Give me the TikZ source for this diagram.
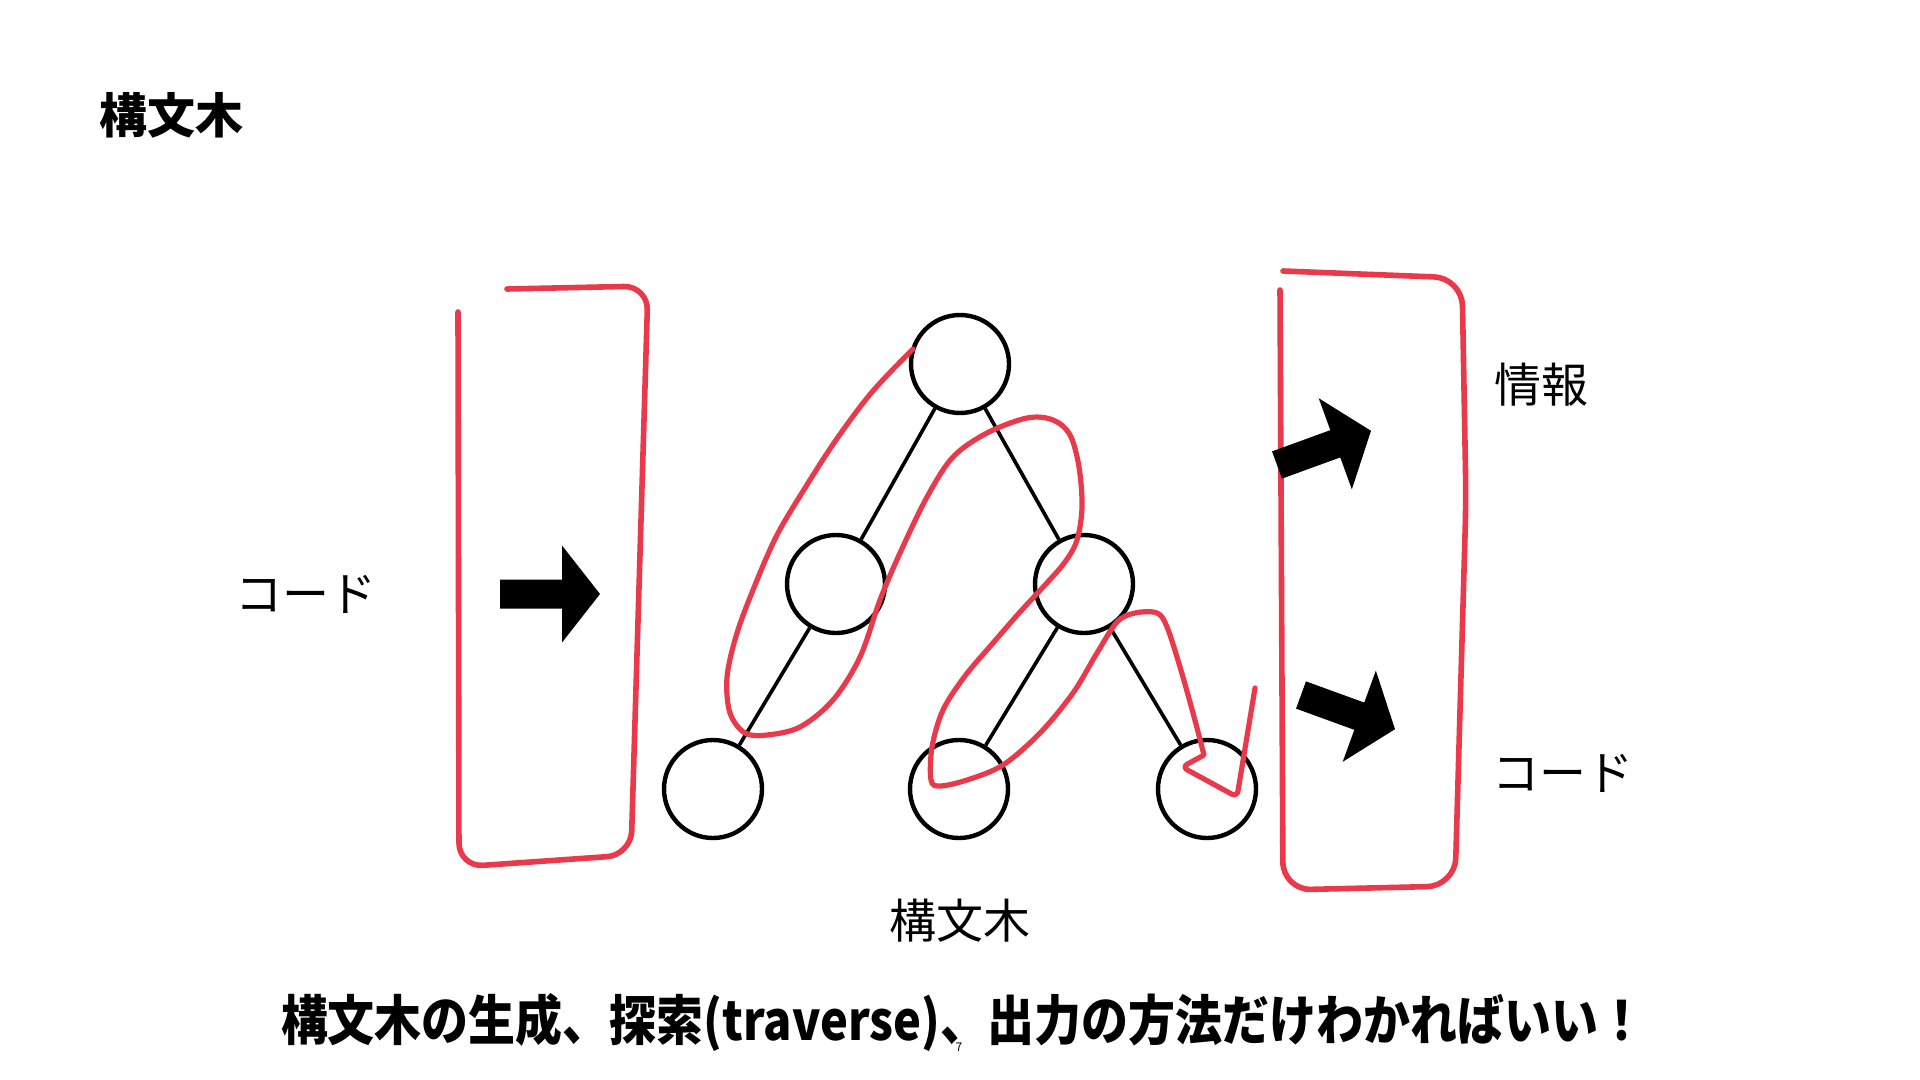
\documentclass[tikz,border=0pt]{standalone}
\usepackage{fontspec}
\setmainfont{Noto Sans CJK JP}
\newfontfamily\narrowfont{Noto Sans CJK JP}[FakeStretch=0.87]
\usepackage{tikz}
\usetikzlibrary{positioning}
\definecolor{pencil}{RGB}{232,58,74}

\begin{document}
\begin{tikzpicture}[x=0.5pt, y=-0.5pt, on grid,
  vertex/.style={circle, draw, line width=2.2pt, minimum size=49pt, inner sep=0pt},
  txt/.style={inner sep=0pt, font=\fontsize{23.5}{28}\selectfont},
  branch/.style={line width=1.8pt},
  redline/.style={draw=pencil, line width=2.8pt, line cap=round, line join=round},
  fatarrow/.pic={\fill (0,-14.5) -- (62,-14.5) -- (62,-48.5) -- (100,0) -- (62,48.5) -- (62,14.5) -- (0,14.5) -- cycle;}]
\useasboundingbox (0,0) rectangle (1920,1080);

% Title
\node[txt, anchor=west, font=\fontsize{24}{29}\selectfont\bfseries] (title) at (99,115) {構文木};

% Tree nodes
\node[vertex] (root) at (960,364) {};
\node[vertex, below left=110pt and 62pt of root] (midleft) {};
\node[vertex, below right=110pt and 62pt of root] (midright) {};
\node[vertex, below left=102.5pt and 61.5pt of midleft] (leafa) {};
\node[vertex, below right=102.5pt and 61.5pt of midleft] (leafb) {};
\node[vertex, below right=102.5pt and 61.5pt of midright] (leafc) {};

% Edges
\draw[branch] (root) -- (midleft);
\draw[branch] (root) -- (midright);
\draw[branch] (midleft) -- (leafa);
\draw[branch] (midright) -- (leafb);
\draw[branch] (midright) -- (leafc);

% Labels
\node[txt] (srccode) at (306,594) {コード};
\node[txt, anchor=west] (info) at (1494,385) {情報};
\node[txt, anchor=west] (outcode) at (1492,773) {コード};
\node[txt] (treename) at (960,921) {構文木};

% Red brackets
\draw[redline, rounded corners=12pt] (507,289) -- (648,286) -- (631,855) -- (459,867) -- (458,312);
\draw[redline, rounded corners=14pt] (1283,271) -- (1462,278) -- (1466,500) -- (1455,886) -- (1283,890) -- (1280,290);

% Traversal
\draw[redline, line width=2.6pt] plot[smooth, tension=0.55] coordinates {
  (913,349) (872,392) (836,440) (805,488) (777,535) (755,585) (737,633) (727,677)
  (730,713) (745,733) (767,735) (800,727) (833,700) (860,657) (880,600) (900,553)
  (927,497) (953,457) (987,433) (1027,418) (1053,420) (1070,435) (1079,467) (1082,507)
  (1077,540) (1065,562) (1045,585) (1020,612) (993,643) (965,676) (943,710) (932,747)
  (931,780) (940,786) (967,780) (1003,765) (1040,733) (1073,693) (1097,653) (1117,622)
  (1135,613) (1157,613) (1167,627) (1180,667) (1193,713) (1204,755)}
  [rounded corners=3pt] -- (1182,767) -- (1237,797) -- (1255,688);

% Arrows
\pic at (500,594) {fatarrow};
\pic[rotate=20] at (1277,465) {fatarrow};
\pic[rotate=-20] at (1301,695) {fatarrow};

% Bottom line
\node[font=\narrowfont\bfseries\fontsize{27}{32}\selectfont] (summary) at (963,1022) {構文木の生成、探索(traverse)、出力の方法だけわかればいい！};
\node[font=\fontsize{6}{7}\selectfont] (pagenum) at (959,1047) {7};

\end{tikzpicture}
\end{document}
